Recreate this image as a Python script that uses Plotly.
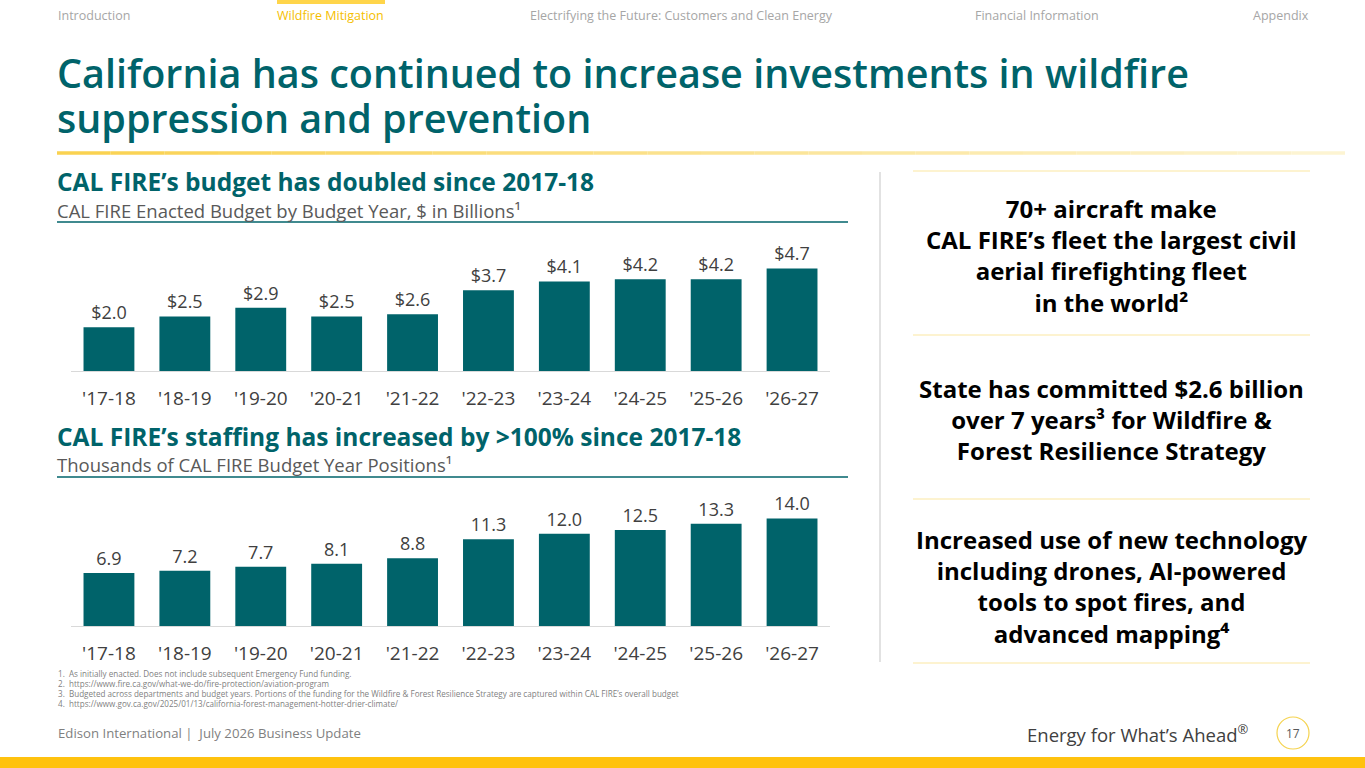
import plotly.graph_objects as go

W, H = 1365, 768

years = ["'17-18", "'18-19", "'19-20", "'20-21", "'21-22",
         "'22-23", "'23-24", "'24-25", "'25-26", "'26-27"]
budget = [2.0, 2.5, 2.9, 2.5, 2.6, 3.7, 4.1, 4.2, 4.2, 4.7]
staffing = [6.9, 7.2, 7.7, 8.1, 8.8, 11.3, 12.0, 12.5, 13.3, 14.0]

nav_items = ["Introduction", "Wildfire Mitigation",
             "Electrifying the Future: Customers and Clean Energy",
             "Financial Information", "Appendix"]
footnotes = [
    "1.  As initially enacted. Does not include subsequent Emergency Fund funding.",
    "2.  https://www.fire.ca.gov/what-we-do/fire-protection/aviation-program",
    "3.  Budgeted across departments and budget years. Portions of the funding for the Wildfire & Forest Resilience Strategy are captured within CAL FIRE\u2019s overall budget",
    "4.  https://www.gov.ca.gov/2025/01/13/california-forest-management-hotter-drier-climate/",
]
callouts = [
    "70+ aircraft make<br>CAL FIRE\u2019s fleet the largest civil<br>aerial firefighting fleet<br>in the world\u00b2",
    "State has committed $2.6 billion<br>over 7 years\u00b3 for Wildfire &<br>Forest Resilience Strategy",
    "Increased use of new technology<br>including drones, AI-powered<br>tools to spot fires, and<br>advanced mapping\u2074",
]

TEAL = "#00636A"
GOLD = "#FFC20E"
FONT = "Open Sans"


def px(x):
    return x / W


def py(y):
    return 1 - y / H


fig = go.Figure()

# budget chart
fig.add_trace(go.Bar(
    x=years, y=budget, xaxis="x", yaxis="y",
    marker=dict(color=TEAL, line=dict(width=0)),
    texttemplate="$%{y:.1f}", textposition="outside", cliponaxis=False,
    textfont=dict(family=FONT, size=18, color="#404040"),
    hoverinfo="x+y",
))
# staffing chart
fig.add_trace(go.Bar(
    x=years, y=staffing, xaxis="x2", yaxis="y2",
    marker=dict(color=TEAL, line=dict(width=0)),
    texttemplate="%{y:.1f}", textposition="outside", cliponaxis=False,
    textfont=dict(family=FONT, size=18, color="#404040"),
    hoverinfo="x+y",
))

xcommon = dict(showline=True, linecolor="#D9D9D9", linewidth=1, showgrid=False,
               ticks="", ticklabelstandoff=10, zeroline=False, fixedrange=True,
               tickfont=dict(family=FONT, size=19, color="#404040"))

fig.update_layout(
    width=W, height=H,
    margin=dict(l=0, r=0, t=0, b=0),
    paper_bgcolor="white", plot_bgcolor="white",
    showlegend=False, bargap=0.33,
    font=dict(family=FONT),
    xaxis=dict(domain=[px(71), px(830)], anchor="y", **xcommon),
    yaxis=dict(domain=[py(371), py(240)], range=[0, 6], visible=False, fixedrange=True),
    xaxis2=dict(domain=[px(71), px(830)], anchor="y2", **xcommon),
    yaxis2=dict(domain=[py(626), py(503)], range=[0, 16], visible=False, fixedrange=True),
)

anns = []
shapes = []


def text(x, y, s, size, color, anchor="left", weight=None, yanchor="middle"):
    f = dict(family=FONT, size=size, color=color)
    if weight:
        f["weight"] = weight
    anns.append(dict(x=px(x), y=py(y), xref="paper", yref="paper", text=s,
                     showarrow=False, xanchor=anchor, yanchor=yanchor, font=f,
                     borderpad=0, align="center" if anchor == "center" else "left"))


def line(x0, y0, x1, y1, color, w=1):
    shapes.append(dict(type="line", xref="paper", yref="paper",
                       x0=px(x0), y0=py(y0), x1=px(x1), y1=py(y1),
                       line=dict(color=color, width=w)))


# top navigation
nav_x = [57, 330, 681, 1037, 1281]
for i, (lab, x) in enumerate(zip(nav_items, nav_x)):
    active = lab == "Wildfire Mitigation"
    text(x, 15, lab, 12.5, "#F5BE00" if active else "#A6A6A6",
         anchor="left" if i == 0 else "center")
shapes.append(dict(type="rect", xref="paper", yref="paper", x0=px(277), x1=px(385),
                   y0=py(4), y1=py(0), fillcolor="#FFD54A", line=dict(width=0)))

# main title
text(56, 73, "California has continued to increase investments in wildfire", 39.5, TEAL, weight=600)
text(56, 118, "suppression and prevention", 39.5, TEAL, weight=600)

# gold fading rule under the title
n_seg = 24
x_start, x_end = 57, 1345
for i in range(n_seg):
    t = i / (n_seg - 1)
    r = int(250 + (253 - 250) * t)
    g = int(210 + (244 - 210) * t)
    b = int(80 + (210 - 80) * t)
    xa = x_start + (x_end - x_start) * i / n_seg
    xb = x_start + (x_end - x_start) * (i + 1) / n_seg
    line(xa, 153, xb, 153, f"rgb({r},{g},{b})", 3.5)

# section headers
text(56, 181, "CAL FIRE\u2019s budget has doubled since 2017-18", 24.5, TEAL, weight=700)
text(56, 210, "CAL FIRE Enacted Budget by Budget Year, $ in Billions\u00b9", 18.5, "#595959")
line(57, 222, 848, 222, TEAL, 1.5)

text(56, 436, "CAL FIRE\u2019s staffing has increased by >100% since 2017-18", 24.5, TEAL, weight=700)
text(56, 464, "Thousands of CAL FIRE Budget Year Positions\u00b9", 18.5, "#595959")
line(57, 477, 848, 477, TEAL, 1.5)

# divider and right panel
line(880, 172, 880, 662, "#D9D9D9", 1.5)
for y in [171, 335, 499, 663]:
    line(913, y, 1310, y, "#FBE7A1", 1)
callout_y = [256, 419, 586]
for s, y in zip(callouts, callout_y):
    text(1111, y, s, 24, "#000000", anchor="center", weight=700)

# footnotes
for i, s in enumerate(footnotes):
    text(57, 673 + i * 10, s, 8.1, "#7F7F7F")

# footer
text(57, 733, "Edison International |  July 2026 Business Update", 13.2, "#7F7F7F")
text(1250, 733, "Energy for What\u2019s Ahead<sup>\u00ae</sup>", 18.5, "#404040", anchor="right")
shapes.append(dict(type="circle", xref="paper", yref="paper", x0=px(1277), x1=px(1309),
                   y0=py(749), y1=py(717), line=dict(color="#F5D34F", width=1.2)))
text(1293, 733, "17", 12, "#595959", anchor="center")
shapes.append(dict(type="rect", xref="paper", yref="paper", x0=0, x1=1,
                   y0=0, y1=py(757), fillcolor=GOLD, line=dict(width=0)))

fig.update_layout(annotations=anns, shapes=shapes)
fig.write_html("out.html", config={"displayModeBar": False},
               post_script="document.body.style.margin='0';")
